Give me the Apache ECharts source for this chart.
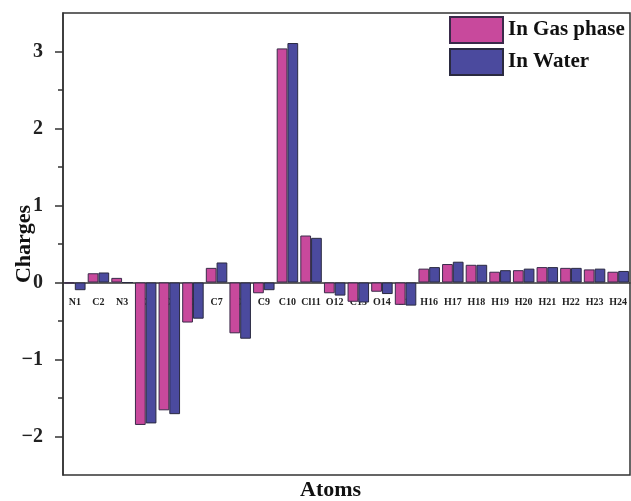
<!DOCTYPE html>
<html>
<head>
<meta charset="utf-8">
<script src="https://cdn.jsdelivr.net/npm/echarts@6/dist/echarts.min.js"></script>
<style>
    html, body { margin: 0; padding: 0; background: #fff; }
    #main { width: 631px; height: 501px; }
</style>
</head>
<body>
<div id="main"></div>
<script>
// atoms along the x axis
const atoms = ['N1', 'C2', 'N3', 'C4', 'C5', 'C6', 'C7', 'C8', 'C9', 'C10', 'Cl11', 'O12',
    'C13', 'O14', 'C15', 'H16', 'H17', 'H18', 'H19', 'H20', 'H21', 'H22', 'H23', 'H24'];

// charges
const gasPhase = [-0.01, 0.12, 0.06, -1.85, -1.66, -0.52, 0.19, -0.66, -0.14, 3.04, 0.61, -0.14,
    -0.25, -0.12, -0.29, 0.18, 0.24, 0.23, 0.14, 0.16, 0.20, 0.19, 0.17, 0.14];
const inWater = [-0.10, 0.13, 0.00, -1.83, -1.71, -0.47, 0.26, -0.73, -0.10, 3.11, 0.58, -0.17,
    -0.26, -0.15, -0.30, 0.20, 0.27, 0.23, 0.16, 0.18, 0.20, 0.19, 0.18, 0.15];

// y axis range and ticks
const yMin = -2.5;
const yMax = 3.5;
const majorTicks = [-2, -1, 0, 1, 2, 3];
const minorTicks = [-1.5, -0.5, 0.5, 1.5, 2.5];

const serif = '"Liberation Serif", "DejaVu Serif", serif';

const gridTop = 13;
const gridBottom = 26;
const plotH = 501 - gridTop - gridBottom;
// x 轴放到 0 的位置
const zeroOffset = -plotH * (0 - yMin) / (yMax - yMin);

let myChart = echarts.init(document.getElementById('main'));

let option = {
    backgroundColor: '#fff',
    animation: false,
    grid: {
        left: 63,
        right: 1,
        top: gridTop,
        bottom: gridBottom,
        outerBoundsMode: 'none',
        containLabel: false,
        show: true,
        borderColor: '#333',
        borderWidth: 1.5,
        backgroundColor: 'transparent'
    },
    legend: {
        orient: 'vertical',
        left: 444,
        top: 11,
        itemWidth: 53,
        itemHeight: 26,
        itemGap: 4,
        icon: 'rect',
        textStyle: {
            fontFamily: serif,
            fontWeight: 'bold',
            fontSize: 21,
            color: '#111'
        },
        data: ['In Gas phase', 'In Water']
    },
    graphic: [{
        type: 'text',
        left: 300,
        top: 479,
        style: {
            text: 'Atoms',
            fontFamily: serif,
            fontWeight: 'bold',
            fontSize: 22,
            fill: '#111'
        }
    }],
    xAxis: {
        type: 'category',
        data: atoms,
        position: 'bottom',
        offset: zeroOffset,
        axisLine: { onZero: false, lineStyle: { color: '#333', width: 1.5 } },
        axisTick: { alignWithLabel: true, length: 5, lineStyle: { color: '#333', width: 1.5 } },
        axisLabel: {
            interval: 0,
            margin: 15,
            fontFamily: serif,
            fontWeight: 'bold',
            fontSize: 10,
            color: '#222'
        }
    },
    yAxis: [
        {
            type: 'value',
            min: yMin,
            max: yMax,
            name: 'Charges',
            nameLocation: 'middle',
            nameGap: 28,
            nameMoveOverlap: false,
            nameTextStyle: {
                fontFamily: serif,
                fontWeight: 'bold',
                fontSize: 22,
                color: '#111'
            },
            axisLine: { show: true, lineStyle: { color: '#333', width: 1.5 } },
            axisTick: { show: true, length: 8, customValues: majorTicks, lineStyle: { color: '#333', width: 1.5 } },
            splitLine: { show: false },
            axisLabel: {
                margin: 20,
                customValues: majorTicks,
                fontFamily: serif,
                fontWeight: 'bold',
                fontSize: 20,
                color: '#222',
                formatter: function (v) {
                    return String(v).replace('-', '\u2212');
                }
            }
        },
        {
            // 只画半格的小刻度
            type: 'value',
            min: yMin,
            max: yMax,
            position: 'left',
            offset: 0,
            axisLine: { show: false },
            axisTick: { show: true, length: 5, customValues: minorTicks, lineStyle: { color: '#333', width: 1.5 } },
            axisLabel: { show: false },
            splitLine: { show: false }
        }
    ],
    series: [
        {
            name: 'In Gas phase',
            type: 'bar',
            data: gasPhase,
            barGap: '0%',
            barCategoryGap: '9%',
            itemStyle: { color: '#c8499c', borderColor: '#3a2a4a', borderWidth: 1 }
        },
        {
            name: 'In Water',
            type: 'bar',
            data: inWater,
            barGap: '0%',
            barCategoryGap: '9%',
            itemStyle: { color: '#4b4a9e', borderColor: '#2a2a40', borderWidth: 1 }
        }
    ]
};

myChart.setOption(option);
</script>
</body>
</html>
